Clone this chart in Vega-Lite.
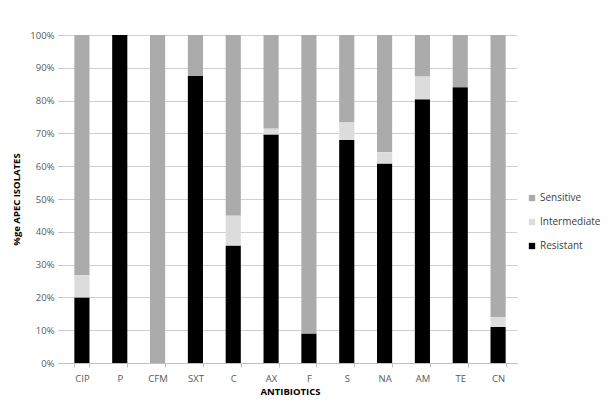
{
  "$schema": "https://vega.github.io/schema/vega-lite/v6.json",
  "width": 454,
  "height": 328,
  "autosize": {"type": "none"},
  "padding": {"left": 63, "top": 35, "right": 93, "bottom": 42},
  "background": "white",
  "data": {
    "values": [
      {"ab": "CIP", "status": "Resistant", "o": 1, "v": 20.0},
      {"ab": "CIP", "status": "Intermediate", "o": 2, "v": 6.8},
      {"ab": "CIP", "status": "Sensitive", "o": 3, "v": 73.2},
      {"ab": "P", "status": "Resistant", "o": 1, "v": 100},
      {"ab": "P", "status": "Intermediate", "o": 2, "v": 0},
      {"ab": "P", "status": "Sensitive", "o": 3, "v": 0},
      {"ab": "CFM", "status": "Resistant", "o": 1, "v": 0},
      {"ab": "CFM", "status": "Intermediate", "o": 2, "v": 0},
      {"ab": "CFM", "status": "Sensitive", "o": 3, "v": 100},
      {"ab": "SXT", "status": "Resistant", "o": 1, "v": 87.5},
      {"ab": "SXT", "status": "Intermediate", "o": 2, "v": 0},
      {"ab": "SXT", "status": "Sensitive", "o": 3, "v": 12.5},
      {"ab": "C", "status": "Resistant", "o": 1, "v": 35.8},
      {"ab": "C", "status": "Intermediate", "o": 2, "v": 9.2},
      {"ab": "C", "status": "Sensitive", "o": 3, "v": 55.0},
      {"ab": "AX", "status": "Resistant", "o": 1, "v": 69.7},
      {"ab": "AX", "status": "Intermediate", "o": 2, "v": 1.8},
      {"ab": "AX", "status": "Sensitive", "o": 3, "v": 28.5},
      {"ab": "F", "status": "Resistant", "o": 1, "v": 9.0},
      {"ab": "F", "status": "Intermediate", "o": 2, "v": 0},
      {"ab": "F", "status": "Sensitive", "o": 3, "v": 91.0},
      {"ab": "S", "status": "Resistant", "o": 1, "v": 68.0},
      {"ab": "S", "status": "Intermediate", "o": 2, "v": 5.5},
      {"ab": "S", "status": "Sensitive", "o": 3, "v": 26.5},
      {"ab": "NA", "status": "Resistant", "o": 1, "v": 60.8},
      {"ab": "NA", "status": "Intermediate", "o": 2, "v": 3.5},
      {"ab": "NA", "status": "Sensitive", "o": 3, "v": 35.7},
      {"ab": "AM", "status": "Resistant", "o": 1, "v": 80.4},
      {"ab": "AM", "status": "Intermediate", "o": 2, "v": 7.0},
      {"ab": "AM", "status": "Sensitive", "o": 3, "v": 12.6},
      {"ab": "TE", "status": "Resistant", "o": 1, "v": 84.1},
      {"ab": "TE", "status": "Intermediate", "o": 2, "v": 0},
      {"ab": "TE", "status": "Sensitive", "o": 3, "v": 15.9},
      {"ab": "CN", "status": "Resistant", "o": 1, "v": 11.0},
      {"ab": "CN", "status": "Intermediate", "o": 2, "v": 3.0},
      {"ab": "CN", "status": "Sensitive", "o": 3, "v": 86.0}
    ]
  },
  "mark": {"type": "bar"},
  "encoding": {
    "x": {
      "field": "ab",
      "type": "nominal",
      "sort": null,
      "scale": {"paddingInner": 0.6, "paddingOuter": 0.3},
      "axis": {
        "title": "ANTIBIOTICS",
        "labelAngle": 0,
        "tickBand": "extent",
        "tickSize": 4,
        "labelPadding": 6,
        "titlePadding": 4
      }
    },
    "y": {
      "field": "v",
      "type": "quantitative",
      "stack": "normalize",
      "scale": {"domain": [0, 1]},
      "axis": {
        "title": "%ge APEC ISOLATES",
        "format": ".0%",
        "values": [0, 0.1, 0.2, 0.3, 0.4, 0.5, 0.6, 0.7, 0.8, 0.9, 1],
        "labelOverlap": false,
        "labelFlush": false,
        "domain": false,
        "tickSize": 5,
        "labelPadding": 4,
        "titlePadding": 8
      }
    },
    "color": {
      "field": "status",
      "type": "nominal",
      "scale": {
        "domain": ["Sensitive", "Intermediate", "Resistant"],
        "range": ["#ababab", "#dcdcdc", "#000000"]
      },
      "legend": {
        "title": null,
        "orient": "none",
        "legendX": 464,
        "legendY": 158,
        "symbolType": "square",
        "symbolSize": 40,
        "rowPadding": 14,
        "labelFontSize": 10,
        "labelOffset": 3,
        "labelColor": "#404040",
        "labelFont": "Open Sans"
      }
    },
    "order": {"field": "o", "type": "quantitative"}
  },
  "config": {
    "view": {"stroke": null},
    "font": "Open Sans",
    "axis": {
      "labelFont": "Open Sans",
      "labelFontSize": 9.5,
      "labelColor": "#595959",
      "titleFont": "Open Sans",
      "titleFontSize": 9.5,
      "titleFontWeight": "bold",
      "titleColor": "#000000",
      "gridColor": "#d0d0d0",
      "tickColor": "#c0c0c0",
      "domainColor": "#c0c0c0"
    },
    "axisX": {"grid": false},
    "axisY": {"grid": true}
  }
}
